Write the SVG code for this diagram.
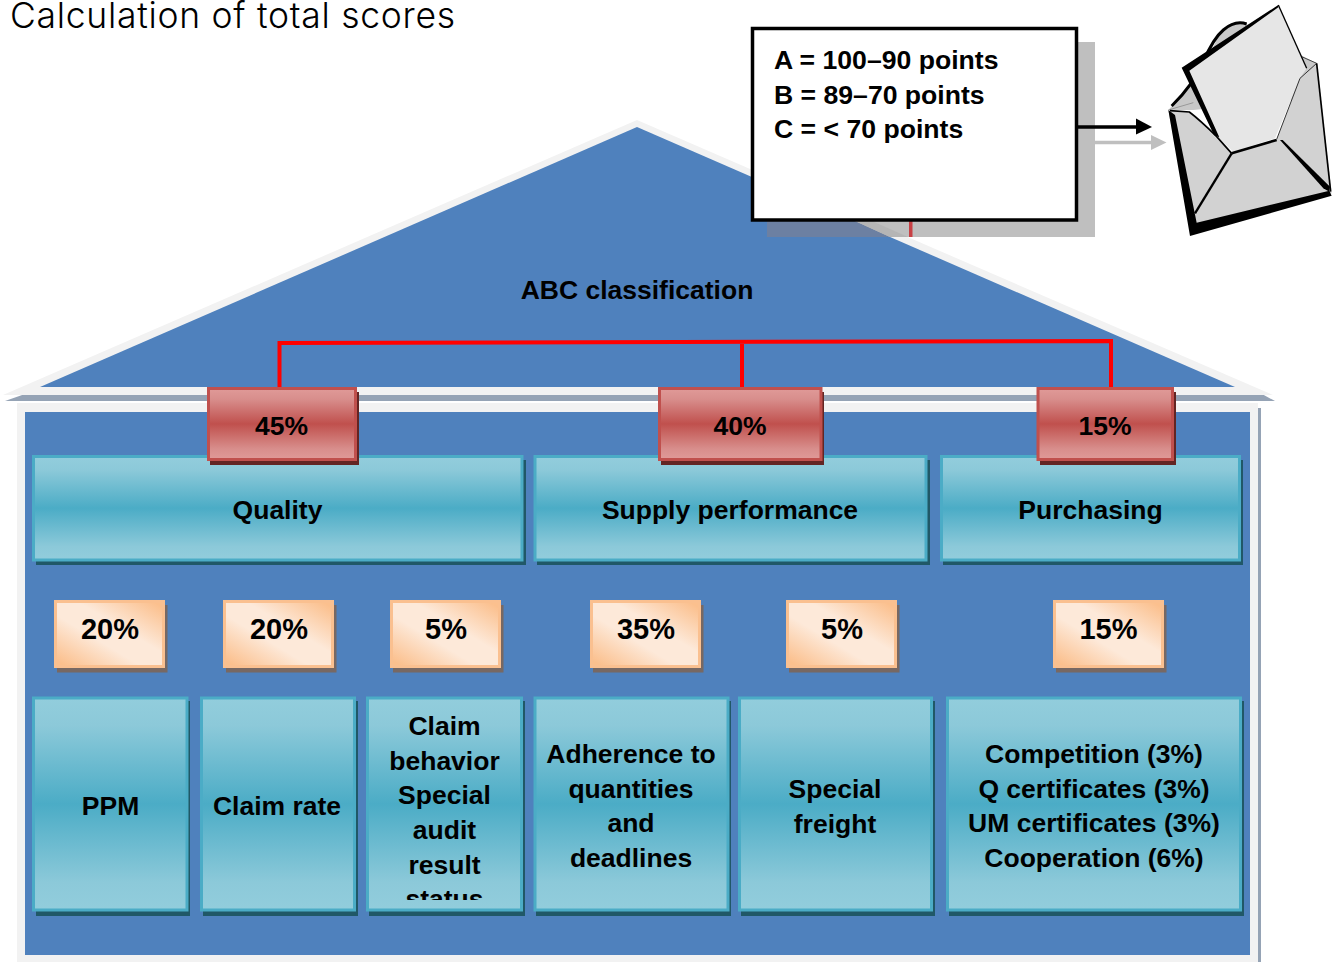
<svg xmlns="http://www.w3.org/2000/svg" width="1335" height="962" viewBox="0 0 1335 962">
<style>
text{font-family:"Liberation Sans",Arial,sans-serif;font-weight:700;fill:#000;text-anchor:middle;font-size:26.5px}
.title{font-family:Inter,Lato,sans-serif;font-weight:300;font-size:35.5px;text-anchor:start}
.legend{text-anchor:start;font-size:26.6px}
.pct{font-size:29px}
.red{fill:url(#gRed);stroke:#c0504d;stroke-width:3}
.redS{fill:#632523}
.teal{fill:url(#gTeal);stroke:#4bacc6;stroke-width:3}
.tealS{fill:#205867}
.org{fill:url(#gOrg);stroke:#fac090;stroke-width:3}
.orgS{fill:#776863}
.wire{stroke:#f00;stroke-width:4;fill:none}
</style>
<defs>
<linearGradient id="gRed" x1="0" y1="0" x2="0" y2="1"><stop offset="0" stop-color="#e09a98"/><stop offset=".15" stop-color="#d88e8c"/><stop offset=".5" stop-color="#c0504d"/><stop offset=".85" stop-color="#d88e8c"/><stop offset="1" stop-color="#e09a98"/></linearGradient>
<linearGradient id="gTeal" x1="0" y1="0" x2="0" y2="1"><stop offset="0" stop-color="#92cddc"/><stop offset=".13" stop-color="#8cc9d9"/><stop offset=".5" stop-color="#4bacc6"/><stop offset=".87" stop-color="#8cc9d9"/><stop offset="1" stop-color="#92cddc"/></linearGradient>
<linearGradient id="gOrg" x1="1" y1="0" x2="0" y2="1"><stop offset=".05" stop-color="#fbc08e"/><stop offset=".4" stop-color="#fde9d9"/><stop offset=".6" stop-color="#fde9d9"/><stop offset=".95" stop-color="#fbc08e"/></linearGradient>
<clipPath id="clipClaim"><rect x="366" y="697" width="157" height="203"/></clipPath>
</defs>

<text class="title" x="10" y="28" textLength="445">Calculation of total scores</text>

<g id="house">
<polygon points="5,401 25,394 1262,394 1275,401" fill="#95a3b5"/>
<polygon points="3,395 637,120 1273,395" fill="#f2f2f2"/>
<polygon points="40,387 637,127 1235,387" fill="#4f81bd"/>
<rect x="1258" y="408" width="3" height="554" fill="#95a3b5"/>
<rect x="17" y="403" width="1241" height="559" fill="#f2f2f2"/>
<rect x="25" y="412" width="1225" height="543" fill="#4f81bd"/>
</g>

<g id="legend-shadow">
<rect x="767" y="42" width="328" height="195" fill="#bfbfbf"/>
<polygon points="767,195 767,237 890,237 855,221 767,195" fill="#6c80a2"/>
<polygon points="855,221 890,237 908,237 872,221" fill="#b5b5b5"/>
<rect x="909" y="215" width="3.500" height="22" fill="#c84044"/>
</g>

<g id="connectors">
<path class="wire" d="M279.500 388V343L1111 341V388M742 342V388"/>
<path d="M1092 142.500H1153" stroke="#bfbfbf" stroke-width="3.500"/>
<polygon points="1151,135 1166.500,142.500 1151,150" fill="#bfbfbf"/>
<path d="M1078 127H1138" stroke="#000" stroke-width="3.500"/>
<polygon points="1136,118.500 1152,127 1136,134.500" fill="#000"/>
</g>

<g id="legend">
<rect x="752.500" y="28.500" width="324" height="191.500" fill="#fff" stroke="#000" stroke-width="3.500"/>
<text class="legend" x="774" y="69">A = 100–90 points</text>
<text class="legend" x="774" y="104">B = 89–70 points</text>
<text class="legend" x="774" y="138">C = &lt; 70 points</text>
</g>

<g id="envelope" transform="translate(1060 0) scale(.33333)">
<path d="M325 330Q420 230 470 120Q500 70 530 65Q550 68 565 75L740 175L770 190L700 300L400 330Z" fill="#c8c8c8"/>
<path d="M335 318Q400 255 430 185Q460 115 490 90Q525 60 560 72" fill="none" stroke="#000" stroke-width="9"/>
<path d="M725 170L770 190" fill="none" stroke="#444" stroke-width="3"/>
<polygon points="655,15 740,205 720,235 645,415 520,455 460,400 370,205" fill="#e6e6e6"/>
<polygon points="655,15 365,203 462,405 478,412 388,212 655,22" fill="#000"/>
<path d="M655 15L740 205" fill="none" stroke="#000" stroke-width="4"/>
<polygon points="325,330 385,335 420,365 515,460 650,418 720,235 770,190 815,580 395,705" fill="#d2d2d2"/>
<polygon points="325,330 390,708 815,587 808,572 410,668 345,345" fill="#000"/>
<path d="M325 330L400 308" fill="none" stroke="#999" stroke-width="3"/>
<path d="M330 332L388 336Q420 360 470 410L515 460" fill="none" stroke="#000" stroke-width="5"/>
<path d="M515 460L650 420" fill="none" stroke="#000" stroke-width="8"/>
<path d="M650 418L720 235L770 190" fill="none" stroke="#333" stroke-width="3"/>
<path d="M515 460L405 640" fill="none" stroke="#000" stroke-width="7"/>
<polygon points="660,420 668,420 810,560 808,575 790,565" fill="#000"/>
<path d="M770 190L812 575" fill="none" stroke="#000" stroke-width="5"/>
</g>

<g id="label-abc"><text x="637" y="299">ABC classification</text></g>

<g id="teal-quality"><rect class="tealS" x="36" y="460" width="490" height="105"/><rect class="teal" x="33.500" y="456.500" width="488.500" height="103.500"/><text x="277.500" y="519">Quality</text></g>
<g id="teal-supply"><rect class="tealS" x="537" y="460" width="393" height="105"/><rect class="teal" x="535" y="456.500" width="391" height="103.500"/><text x="730" y="519">Supply performance</text></g>
<g id="teal-purchasing"><rect class="tealS" x="943" y="460" width="300" height="105"/><rect class="teal" x="941.500" y="456.500" width="298" height="103.500"/><text x="1090.500" y="519">Purchasing</text></g>

<g id="red-45"><rect class="redS" x="210" y="392" width="149" height="73"/><rect class="red" x="208.500" y="388.500" width="147" height="71"/><text x="281.500" y="435">45%</text></g>
<g id="red-40"><rect class="redS" x="661" y="392" width="163" height="73"/><rect class="red" x="659.500" y="388.500" width="161.500" height="71"/><text x="740" y="435">40%</text></g>
<g id="red-15"><rect class="redS" x="1040" y="392" width="136" height="73"/><rect class="red" x="1038" y="388.500" width="134.500" height="71"/><text x="1105" y="435">15%</text></g>

<g id="pct-20a"><rect class="orgS" x="57" y="605" width="110.500" height="67.500"/><rect class="org" x="55.500" y="601.500" width="108" height="65"/><text class="pct" x="110" y="639">20%</text></g>
<g id="pct-20b"><rect class="orgS" x="226" y="605" width="110.500" height="67.500"/><rect class="org" x="224.500" y="601.500" width="108" height="65"/><text class="pct" x="279" y="639">20%</text></g>
<g id="pct-5a"><rect class="orgS" x="393" y="605" width="110.500" height="67.500"/><rect class="org" x="391.500" y="601.500" width="108" height="65"/><text class="pct" x="446" y="639">5%</text></g>
<g id="pct-35"><rect class="orgS" x="593" y="605" width="110.500" height="67.500"/><rect class="org" x="591.500" y="601.500" width="108" height="65"/><text class="pct" x="646" y="639">35%</text></g>
<g id="pct-5b"><rect class="orgS" x="789" y="605" width="110.500" height="67.500"/><rect class="org" x="787.500" y="601.500" width="108" height="65"/><text class="pct" x="842" y="639">5%</text></g>
<g id="pct-15"><rect class="orgS" x="1056" y="605" width="110.500" height="67.500"/><rect class="org" x="1054.500" y="601.500" width="108" height="65"/><text class="pct" x="1108.500" y="639">15%</text></g>

<g id="box-ppm"><rect class="tealS" x="36" y="701" width="154" height="215"/><rect class="teal" x="33.500" y="698" width="153.500" height="212"/><text x="110.500" y="815">PPM</text></g>
<g id="box-claim-rate"><rect class="tealS" x="203" y="701" width="155" height="215"/><rect class="teal" x="201.500" y="698" width="153" height="212"/><text x="277" y="815">Claim rate</text></g>
<g id="box-claim-behavior"><rect class="tealS" x="369" y="701" width="156" height="215"/><rect class="teal" x="367.500" y="698" width="154" height="212"/>
<g clip-path="url(#clipClaim)"><text x="444.500" y="735">Claim</text><text x="444.500" y="770">behavior</text><text x="444.500" y="804">Special</text><text x="444.500" y="839">audit</text><text x="444.500" y="874">result</text><text x="444.500" y="908">status</text></g></g>
<g id="box-adherence"><rect class="tealS" x="536" y="701" width="195" height="215"/><rect class="teal" x="535" y="698" width="193" height="212"/><text x="631" y="763">Adherence to</text><text x="631" y="798">quantities</text><text x="631" y="832">and</text><text x="631" y="867">deadlines</text></g>
<g id="box-freight"><rect class="tealS" x="741" y="701" width="194" height="215"/><rect class="teal" x="739.500" y="698" width="192" height="212"/><text x="835" y="798">Special</text><text x="835" y="833">freight</text></g>
<g id="box-purchasing"><rect class="tealS" x="949" y="701" width="295" height="215"/><rect class="teal" x="947.500" y="698" width="293" height="212"/><text x="1094" y="763">Competition (3%)</text><text x="1094" y="798">Q certificates (3%)</text><text x="1094" y="832">UM certificates (3%)</text><text x="1094" y="867">Cooperation (6%)</text></g>
</svg>
